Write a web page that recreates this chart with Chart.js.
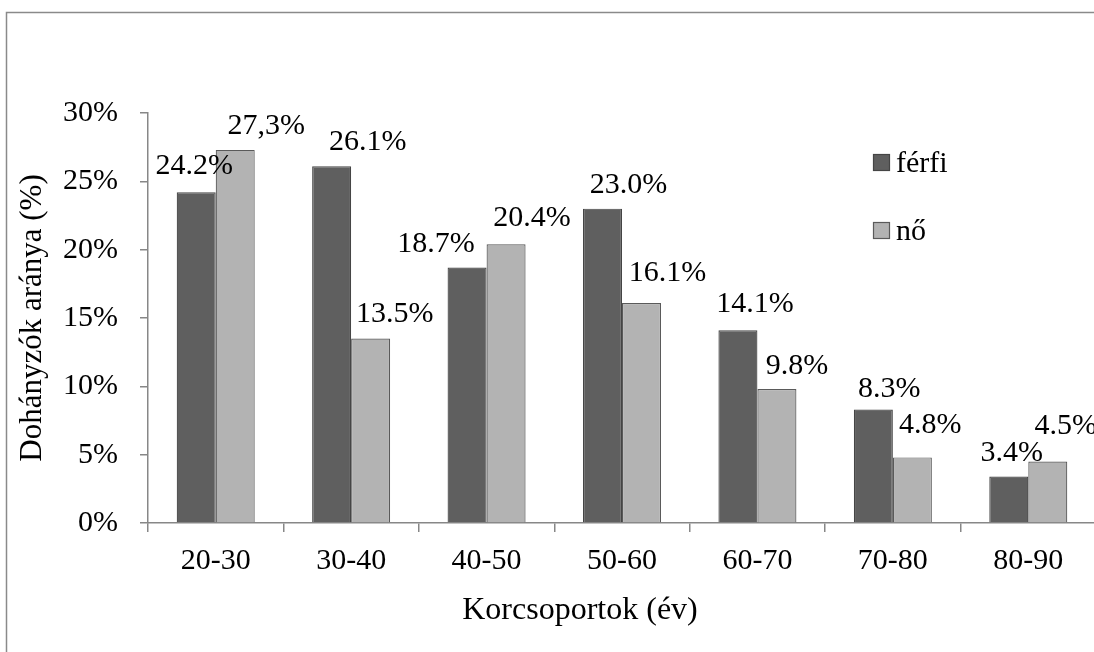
<!DOCTYPE html>
<html lang="hu">
<head>
<meta charset="utf-8">
<title>Dohányzók aránya korcsoportok szerint</title>
<script src="https://cdn.jsdelivr.net/npm/chart.js@4/dist/chart.umd.min.js"></script>
<style>
  html, body { margin: 0; padding: 0; background: #ffffff; overflow: hidden; }
  #wrap { position: relative; width: 1094px; height: 652px; overflow: hidden; }
  canvas { position: absolute; left: 0; top: 0; }
</style>
</head>
<body>
<div id="wrap"><canvas id="chart" width="1100" height="652"></canvas></div>
<script>
// Age groups (years)
const categories = ['20-30', '30-40', '40-50', '50-60', '60-70', '70-80', '80-90'];

// Share of smokers, percent
const ferfiValues = [24.2, 26.1, 18.7, 23.0, 14.1, 8.3, 3.4];
const noValues    = [27.3, 13.5, 20.4, 16.1, 9.8, 4.8, 4.5];

// Decimal separator used in each value label
const ferfiSeparators = ['.', '.', '.', '.', '.', '.', '.'];
const noSeparators    = [',', '.', '.', '.', '.', '.', '.'];

// Y axis ticks (percent)
const yTicks = [0, 5, 10, 15, 20, 25, 30];

const seriesNames = ['férfi', 'nő'];
const xTitle = 'Korcsoportok (év)';
const yTitle = 'Dohányzók aránya (%)';

// Label placement relative to the top centre of each bar: [dx, dy]
const ferfiLabelNudge = [[-2, -28], [36, -26], [-31, -25], [26, -26], [17, -28], [16, -23], [3, -26]];
const noLabelNudge    = [[31, -26], [24, -27], [26, -28], [26, -32], [20, -25], [18, -34], [18, -38]];

const FONT_FAMILY = '"Liberation Serif", "Times New Roman", serif';
const FONT_SIZE = 30;

const fmt = (v, sep) => v.toFixed(1).replace('.', sep) + '%';

// Outer frame of the chart object
const framePlugin = {
  id: 'frame',
  beforeDraw(chart) {
    const ctx = chart.ctx;
    ctx.save();
    ctx.strokeStyle = '#8a8a8a';
    ctx.lineWidth = 1.5;
    ctx.beginPath();
    ctx.moveTo(6.5, chart.height + 5);
    ctx.lineTo(6.5, 12.5);
    ctx.lineTo(chart.width + 5, 12.5);
    ctx.stroke();
    ctx.restore();
  }
};

// Value labels above the bars
const valueLabelPlugin = {
  id: 'valueLabels',
  afterDatasetsDraw(chart) {
    const ctx = chart.ctx;
    const nudges = [ferfiLabelNudge, noLabelNudge];
    const seps = [ferfiSeparators, noSeparators];
    ctx.save();
    ctx.font = FONT_SIZE + 'px ' + FONT_FAMILY;
    ctx.fillStyle = '#000000';
    ctx.textAlign = 'center';
    ctx.textBaseline = 'alphabetic';
    chart.data.datasets.forEach((ds, di) => {
      const meta = chart.getDatasetMeta(di);
      meta.data.forEach((bar, i) => {
        const [dx, dy] = nudges[di][i];
        ctx.fillText(fmt(ds.data[i], seps[di][i]), bar.x + dx, bar.y + dy + 10);
      });
    });
    ctx.restore();
  }
};

// Category axis title, set slightly left of the plot centre
const xTitlePlugin = {
  id: 'xTitle',
  afterDraw(chart) {
    const ctx = chart.ctx;
    const area = chart.chartArea;
    ctx.save();
    ctx.font = '32px ' + FONT_FAMILY;
    ctx.fillStyle = '#000000';
    ctx.textAlign = 'center';
    ctx.textBaseline = 'alphabetic';
    ctx.fillText(xTitle, (area.left + area.right) / 2 - 42, area.bottom + 96);
    ctx.restore();
  }
};

// Legend drawn inside the plot area, upper right
const legendPlugin = {
  id: 'innerLegend',
  afterDraw(chart) {
    const ctx = chart.ctx;
    const area = chart.chartArea;
    const x0 = area.right - 223;
    const y0 = area.top + 41;
    const rowGap = 68;
    const box = 17;
    ctx.save();
    ctx.font = FONT_SIZE + 'px ' + FONT_FAMILY;
    ctx.textAlign = 'left';
    ctx.textBaseline = 'alphabetic';
    chart.data.datasets.forEach((ds, di) => {
      const y = y0 + di * rowGap;
      ctx.fillStyle = ds.backgroundColor;
      ctx.fillRect(x0, y, box, box);
      ctx.strokeStyle = ds.borderColor;
      ctx.lineWidth = 1.2;
      ctx.strokeRect(x0 + 0.5, y + 0.5, box - 1, box - 1);
      ctx.fillStyle = '#000000';
      ctx.fillText(ds.label, x0 + box + 6, y + box + 1);
    });
    ctx.restore();
  }
};

const axisColor = '#878787';

new Chart(document.getElementById('chart'), {
  type: 'bar',
  data: {
    labels: categories,
    datasets: [
      {
        label: seriesNames[0],
        data: ferfiValues,
        backgroundColor: '#5f5f5f',
        borderColor: '#454545',
        borderWidth: 1.2,
        categoryPercentage: 0.576,
        barPercentage: 1.0
      },
      {
        label: seriesNames[1],
        data: noValues,
        backgroundColor: '#b3b3b3',
        borderColor: '#5a5a5a',
        borderWidth: 1.2,
        categoryPercentage: 0.576,
        barPercentage: 1.0
      }
    ]
  },
  options: {
    responsive: false,
    animation: false,
    devicePixelRatio: 1,
    layout: { padding: { top: 113, right: 4, bottom: 0, left: 0 } },
    plugins: {
      legend: { display: false },
      tooltip: { enabled: false }
    },
    scales: {
      x: {
        offset: true,
        grid: {
          offset: true,
          drawOnChartArea: false,
          drawTicks: true,
          tickLength: 9,
          color: axisColor,
          lineWidth: 1.5
        },
        border: { display: true, color: axisColor, width: 1.5 },
        ticks: {
          color: '#000000',
          font: { family: FONT_FAMILY, size: FONT_SIZE },
          padding: 11,
          maxRotation: 0,
          autoSkip: false
        },
        title: { display: false },
        afterFit(scale) { scale.height = 129; }
      },
      y: {
        min: yTicks[0],
        max: yTicks[yTicks.length - 1],
        afterBuildTicks(scale) { scale.ticks = yTicks.map(v => ({ value: v })); },
        grid: {
          drawOnChartArea: false,
          drawTicks: true,
          tickLength: 8,
          color: axisColor,
          lineWidth: 1.5
        },
        border: { display: true, color: axisColor, width: 1.5 },
        ticks: {
          color: '#000000',
          font: { family: FONT_FAMILY, size: FONT_SIZE },
          padding: 22,
          callback: v => v + '%'
        },
        title: {
          display: true,
          text: yTitle,
          color: '#000000',
          font: { family: FONT_FAMILY, size: 31 },
          padding: { top: 14, bottom: 0 }
        },
        afterFit(scale) { scale.width = 148; }
      }
    }
  },
  plugins: [framePlugin, valueLabelPlugin, xTitlePlugin, legendPlugin]
});
</script>
</body>
</html>
